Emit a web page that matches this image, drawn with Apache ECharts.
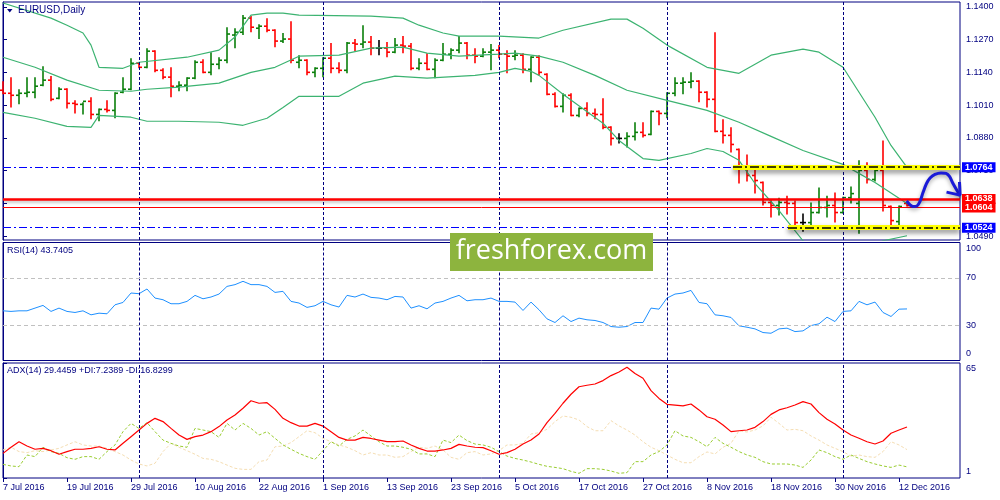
<!DOCTYPE html>
<html>
<head>
<meta charset="utf-8">
<title>EURUSD,Daily</title>
<script src="https://cdn.jsdelivr.net/npm/echarts@6.0.0/dist/echarts.min.js"></script>
<style>
  html, body { margin: 0; padding: 0; background: #fff; }
  #chart { width: 1000px; height: 500px; }
</style>
</head>
<body>
<div id="chart"></div>
<script>
// daily bars 7 Jul .. 13 Dec 2016 (index 0 = 7 Jul)
var opens = [
  1.1069,1.1057,1.1049,1.1057,1.1061,1.1089,1.1109,1.1037,1.1073,1.1017,
  1.1013,1.1025,1.0973,1.0993,1.0989,1.1061,1.1073,1.1176,1.1160,1.1224,
  1.1148,1.1121,1.1085,1.1089,1.1117,1.1180,1.1140,1.1172,1.1188,1.1288,
  1.1299,1.1355,1.1315,1.1323,1.1307,1.1264,1.1272,1.1180,1.1188,1.1140,
  1.1156,1.1196,1.1156,1.1148,1.1256,1.1252,1.1260,1.1236,1.1236,1.1220,
  1.1248,1.1244,1.1156,1.1176,1.1152,1.1188,1.1212,1.1228,1.1256,1.1208,
  1.1204,1.1220,1.1228,1.1212,1.1204,1.1208,1.1152,1.1200,1.1132,1.1053,
  1.1005,1.1049,1.0969,1.0997,1.0977,1.0973,1.0922,1.0878,1.0878,1.0886,
  1.0902,1.0894,1.0985,1.0977,1.1057,1.1097,1.1101,1.1105,1.1061,1.1033,
  1.0906,1.0890,1.0834,1.0763,1.0731,1.0703,1.0624,1.0612,1.0624,1.0620,
  1.0544,1.0544,1.0584,1.0604,1.0612,1.0584,1.0643,1.0620,1.0751,1.0715,
  1.0751,1.0608,1.0548,1.0620
];
var highs = [
  1.1105,1.1121,1.1073,1.1121,1.1121,1.1164,1.1125,1.1081,1.1077,1.1029,
  1.1021,1.1041,1.0997,1.1029,1.1061,1.1121,1.1196,1.1180,1.1236,1.1228,
  1.1156,1.1160,1.1105,1.1121,1.1188,1.1192,1.1220,1.1200,1.1319,1.1315,
  1.1367,1.1363,1.1331,1.1355,1.1311,1.1296,1.1343,1.1208,1.1192,1.1160,
  1.1200,1.1256,1.1180,1.1260,1.1272,1.1327,1.1284,1.1268,1.1260,1.1276,
  1.1284,1.1256,1.1196,1.1216,1.1196,1.1256,1.1236,1.1284,1.1260,1.1236,
  1.1236,1.1252,1.1248,1.1228,1.1228,1.1216,1.1204,1.1208,1.1136,1.1061,
  1.1057,1.1057,1.1001,1.1021,1.0997,1.1037,1.0926,1.0898,1.0902,1.0942,
  1.0942,1.0989,1.0989,1.1061,1.1121,1.1121,1.1140,1.1109,1.1065,1.1299,
  1.0954,1.0922,1.0838,1.0814,1.0755,1.0707,1.0636,1.0643,1.0651,1.0632,
  1.0580,1.0624,1.0683,1.0651,1.0663,1.0647,1.0687,1.0791,1.0783,1.0763,
  1.0870,1.0612,1.0612,1.0624
];
var lows = [
  1.1053,1.1001,1.1013,1.1041,1.1037,1.1085,1.1025,1.1033,1.0997,1.0977,
  1.0973,1.0954,1.0946,1.0981,1.0958,1.1057,1.1069,1.1156,1.1156,1.1140,
  1.1113,1.1041,1.1065,1.1065,1.1113,1.1136,1.1128,1.1152,1.1176,1.1236,
  1.1288,1.1299,1.1272,1.1299,1.1240,1.1256,1.1176,1.1156,1.1128,1.1121,
  1.1121,1.1136,1.1136,1.1136,1.1224,1.1236,1.1208,1.1208,1.1200,1.1216,
  1.1216,1.1148,1.1148,1.1148,1.1117,1.1184,1.1192,1.1216,1.1192,1.1176,
  1.1200,1.1148,1.1196,1.1136,1.1188,1.1136,1.1101,1.1128,1.1049,1.1001,
  1.0981,1.0966,1.0962,1.0966,1.0954,1.0914,1.0850,1.0858,1.0842,1.0870,
  1.0882,1.0890,1.0930,1.0958,1.1045,1.1053,1.1077,1.1021,1.1001,1.0902,
  1.0858,1.0822,1.0699,1.0707,1.0659,1.0612,1.0564,1.0572,1.0576,1.0524,
  1.0508,1.0532,1.0580,1.0564,1.0544,1.0580,1.0620,1.0500,1.0699,1.0707,
  1.0588,1.0520,1.0524,1.0608
];
var closes = [
  1.1057,1.1049,1.1057,1.1061,1.1085,1.1109,1.1033,1.1073,1.1017,1.1013,
  1.1025,1.0973,1.0993,1.0989,1.1057,1.1073,1.1176,1.1160,1.1224,1.1148,
  1.1121,1.1085,1.1089,1.1117,1.1180,1.1140,1.1172,1.1188,1.1292,1.1299,
  1.1355,1.1319,1.1323,1.1307,1.1264,1.1272,1.1188,1.1188,1.1140,1.1156,
  1.1196,1.1156,1.1148,1.1256,1.1252,1.1260,1.1236,1.1236,1.1220,1.1248,
  1.1244,1.1156,1.1176,1.1152,1.1188,1.1212,1.1228,1.1256,1.1208,1.1204,
  1.1220,1.1228,1.1212,1.1204,1.1208,1.1152,1.1200,1.1140,1.1053,1.1005,
  1.1049,1.0969,1.0997,1.0977,1.0973,1.0922,1.0878,1.0878,1.0886,1.0902,
  1.0890,1.0985,1.0977,1.1057,1.1097,1.1101,1.1105,1.1061,1.1033,1.0906,
  1.0890,1.0854,1.0763,1.0731,1.0711,1.0624,1.0612,1.0624,1.0620,1.0544,
  1.0544,1.0584,1.0604,1.0612,1.0584,1.0643,1.0659,1.0751,1.0715,1.0751,
  1.0612,1.0552,1.0608,1.0612
];

// Bollinger bands, read at [bar index, price]
var bbUpper = [[0,1.1415],[6,1.1355],[8,1.1327],[10,1.1296],[11,1.1248],[12,1.1160],[15,1.1156],[17,1.1180],
  [23,1.1200],[27,1.1228],[29,1.1280],[31,1.1367],[33,1.1375],[35,1.1375],[37,1.1367],[46,1.1363],[50,1.1355],
  [52,1.1327],[55,1.1296],[57,1.1284],[62,1.1284],[67,1.1276],[70,1.1307],[76,1.1351],[78,1.1351],[80,1.1315],
  [83,1.1248],[88,1.1160],[92,1.1136],[96,1.1208],[100,1.1232],[102,1.1220],[105,1.1160],[109,1.0962],
  [111,1.0850],[113,1.0763]];
var bbMiddle = [[0,1.1200],[4,1.1160],[8,1.1109],[12,1.1069],[16,1.1065],[18,1.1073],[22,1.1081],[27,1.1097],
  [31,1.1140],[34,1.1160],[37,1.1204],[42,1.1208],[46,1.1236],[50,1.1240],[53,1.1216],[57,1.1204],[62,1.1212],
  [64,1.1216],[67,1.1204],[70,1.1180],[74,1.1128],[78,1.1069],[83,1.1029],[88,1.0989],[92,1.0942],[96,1.0886],
  [100,1.0830],[105,1.0775],[109,1.0703],[113,1.0620]];
var bbLower = [[0,1.0981],[4,1.0958],[8,1.0926],[11,1.0922],[12,1.0969],[16,1.0962],[18,1.0946],[22,1.0946],
  [27,1.0942],[30,1.0930],[33,1.0958],[35,1.1001],[37,1.1045],[42,1.1045],[45,1.1097],[49,1.1125],[53,1.1117],
  [59,1.1128],[62,1.1140],[64,1.1156],[66,1.1144],[67,1.1128],[70,1.1053],[75,1.0938],[77,1.0870],[80,1.0798],
  [82,1.0791],[86,1.0818],[88,1.0838],[90,1.0826],[92,1.0791],[94,1.0699],[97,1.0592],[100,1.0472],
  [102,1.0425],[105,1.0409],[108,1.0433],[110,1.0472],[113,1.0492]];

var rsi = [
  42.1,41.6,42.1,42.1,44.4,46.7,41.6,44.4,41.6,40.7,
  42.1,38.7,40.1,39.6,47.2,49.2,57.2,56.6,60.6,52.9,
  51.5,48.1,48.1,50.1,55.2,52.3,53.8,56.3,62.8,64.3,
  67.1,64.3,64.3,62.8,57.7,58.6,50.1,48.7,45.0,46.4,
  50.1,47.2,45.3,55.2,53.8,56.3,53.5,52.9,51.5,54.3,
  53.8,44.4,46.4,43.8,48.7,50.1,52.9,55.2,50.6,51.5,
  51.5,52.9,50.1,50.1,49.5,42.4,49.5,43.0,35.3,32.2,
  37.9,33.0,35.9,34.5,33.9,32.2,28.8,28.2,28.8,32.2,
  32.2,44.4,43.5,52.9,56.3,57.2,59.4,49.2,48.1,38.7,
  37.9,36.5,29.4,28.2,26.8,23.7,23.1,26.8,27.4,24.5,
  25.1,29.6,31.1,36.7,33.0,41.6,42.1,50.1,47.2,49.5,
  40.7,37.3,43.5,43.7
];
var adx = [
  14.7,18.1,21.2,18.8,17.0,17.5,16.2,14.2,15.7,17.0,
  17.0,17.5,18.4,17.0,16.6,20.3,24.0,27.7,31.4,34.2,
  32.4,28.6,24.9,22.5,24.0,24.9,26.8,29.6,33.3,36.1,
  39.8,44.0,42.6,42.9,39.2,34.2,31.8,29.9,29.9,31.4,
  29.9,26.8,23.6,22.1,22.1,23.6,23.0,22.1,21.2,21.2,
  21.6,19.4,17.5,16.0,16.0,16.6,17.5,19.7,18.8,18.1,
  17.9,16.2,14.2,15.1,17.0,19.9,22.1,25.5,31.8,37.0,
  42.6,47.6,51.8,52.6,53.3,55.2,58.0,60.0,62.6,59.2,
  56.5,49.6,45.3,42.0,41.6,41.1,42.2,38.9,35.1,33.7,
  30.5,26.8,27.3,27.7,29.2,32.4,36.4,38.9,40.1,41.6,
  43.5,42.2,37.4,33.7,31.1,27.7,24.9,23.1,21.2,19.9,
  21.6,25.9,27.7,29.4
];
var plusDi = [
  8.6,7.7,7.3,13.8,12.9,18.1,15.7,14.7,12.3,11.4,
  12.9,12.9,11.4,15.7,19.4,26.8,31.4,28.6,31.8,26.8,
  22.1,20.3,18.8,18.1,28.6,27.7,26.8,23.6,31.4,27.7,
  31.4,28.6,24.9,26.8,23.1,19.4,17.0,14.7,12.9,11.4,
  16.2,21.2,18.8,22.5,24.4,27.7,24.4,21.2,18.8,18.8,
  18.1,17.0,14.4,14.4,12.9,22.1,20.7,24.9,21.8,19.9,
  19.4,18.1,15.7,13.2,11.9,11.0,9.9,8.6,7.5,6.9,
  6.2,4.7,3.6,6.2,6.2,5.8,4.9,3.6,4.0,10.1,
  10.1,13.8,15.7,19.4,27.3,24.4,23.6,21.2,18.4,23.6,
  20.3,18.1,15.7,13.8,12.5,10.1,8.8,8.8,8.8,8.2,
  6.9,11.0,16.6,15.1,12.9,11.4,13.8,11.9,10.1,8.8,
  7.7,6.9,8.2,7.2
];
var minusDi = [
  16.6,18.1,15.7,15.1,16.2,15.7,16.6,17.5,19.4,21.2,
  19.4,18.8,18.8,17.5,15.7,13.8,11.0,8.8,7.7,9.2,
  15.7,20.3,18.1,16.2,14.2,11.9,11.4,10.1,8.2,6.4,
  5.8,5.8,10.1,11.0,18.4,18.8,20.7,24.0,27.3,26.2,
  23.1,21.2,19.4,18.1,16.2,13.8,15.1,13.8,13.8,12.5,
  12.9,15.7,18.1,17.5,18.8,16.6,12.5,11.4,15.1,15.7,
  13.8,14.4,16.2,19.4,19.4,20.3,25.5,26.2,28.1,32.4,
  35.5,34.8,33.3,29.6,27.3,27.3,32.9,30.0,27.7,24.9,
  21.2,18.1,16.2,13.8,11.4,9.5,9.5,12.9,15.5,14.4,
  18.1,20.3,27.3,26.6,27.7,30.0,34.8,31.4,27.7,28.1,
  27.3,24.4,22.1,19.4,17.5,15.7,13.2,13.8,12.9,12.5,
  15.7,21.2,19.4,16.8
];

var tickIndex = [0, 8, 16, 24, 32, 40, 48, 56, 64, 72, 80, 88, 96, 104, 112];
var tickLabels = ['7 Jul 2016', '19 Jul 2016', '29 Jul 2016', '10 Aug 2016', '22 Aug 2016', '1 Sep 2016',
  '13 Sep 2016', '23 Sep 2016', '5 Oct 2016', '17 Oct 2016', '27 Oct 2016', '8 Nov 2016', '18 Nov 2016',
  '30 Nov 2016', '12 Dec 2016'];
var monthStarts = [17, 40, 62, 83, 105];  // 1 Aug, 1 Sep, 3 Oct, 1 Nov, 1 Dec
var priceTicks = [1.0490, 1.0620, 1.0750, 1.0880, 1.1010, 1.1140, 1.1270, 1.1400];

// drawn objects on the price panel
var resistance = 1.0764, support = 1.0524;
var redLevels = [1.0638, 1.0604];
var bandFrom = [91.25, 98.125];   // where the yellow highlight starts (bar index)
var arrowPath = [[112.96,1.0630],[113.38,1.0614],[113.75,1.0608],[114.25,1.0610],[114.63,1.0628],[115.0,1.0663],
  [115.44,1.0699],[115.88,1.0721],[116.5,1.0735],[117.25,1.0741],[117.88,1.0739],[118.31,1.0727],[118.75,1.0699],
  [119.25,1.0671],[119.63,1.0651]];
var arrowHead = [[117.94,1.0665],[119.63,1.0653],[119.56,1.0705]];

var navy = '#000080';
var font = 'Tahoma, "Liberation Sans", Arial, sans-serif';
var lastX = 119.625;  // right edge of the panels in bar units

var chart = echarts.init(document.getElementById('chart'));

function withIndex(arr) {
  return arr.map(function (v, i) { return [i, v]; });
}

function renderBar(params, api) {
  var o = api.value(1), c = api.value(4);
  var ph = api.coord([api.value(0), api.value(2)]);
  var pl = api.coord([api.value(0), api.value(3)]);
  var po = api.coord([api.value(0), o]);
  var pc = api.coord([api.value(0), c]);
  var col = c > o ? '#0a7f0a' : (c < o ? '#ff0000' : '#000000');
  var x = Math.round(ph[0]);
  var st = { stroke: col, lineWidth: 1.6 };
  return {
    type: 'group',
    children: [
      { type: 'line', shape: { x1: x, y1: ph[1], x2: x, y2: pl[1] }, style: st },
      { type: 'line', shape: { x1: x - 3, y1: po[1], x2: x, y2: po[1] }, style: st },
      { type: 'line', shape: { x1: x, y1: pc[1], x2: x + 3, y2: pc[1] }, style: st }
    ]
  };
}

function priceTag(bg, v) {
  return {
    show: true, position: 'end', distance: 2, formatter: v.toFixed(4),
    color: '#fff', backgroundColor: bg, padding: [1, 3, 0, 3], lineHeight: 9,
    fontSize: 9, fontWeight: 'bold', fontFamily: font
  };
}

var sepStyle = { color: navy, width: 1, type: [3, 2] };
function separators() {
  return monthStarts.map(function (i) { return { xAxis: i, lineStyle: sepStyle }; });
}

function xAxisFor(gi, labels) {
  return {
    type: 'value', gridIndex: gi, min: 0, max: lastX,
    axisLine: { show: false }, splitLine: { show: false },
    axisTick: { show: labels, customValues: tickIndex, length: 4, lineStyle: { color: navy } },
    axisLabel: {
      show: labels, customValues: tickIndex, align: 'left', margin: 5,
      color: navy, fontSize: 9, fontFamily: font,
      formatter: function (v) { return tickLabels[tickIndex.indexOf(v)]; }
    }
  };
}

function yAxisFor(gi, min, max, ticks, fmt) {
  return {
    type: 'value', gridIndex: gi, position: 'right', min: min, max: max,
    axisLine: { show: true, lineStyle: { color: navy } }, splitLine: { show: false },
    axisTick: { show: true, customValues: ticks, length: 4, lineStyle: { color: navy } },
    axisLabel: {
      customValues: ticks, formatter: fmt, margin: 6, color: navy, fontSize: 9, fontFamily: font,
      rich: {
        top: { padding: [12, 0, 0, 0], color: navy, fontSize: 9, fontFamily: font },
        bot: { padding: [0, 0, 13, 0], color: navy, fontSize: 9, fontFamily: font }
      }
    }
  };
}

var dashDot = [8, 3, 2, 3];

var option = {
  animation: false,
  backgroundColor: '#fff',
  textStyle: { fontFamily: font },
  title: [
    { text: 'EURUSD,Daily', left: 18, top: 5, padding: 0,
      textStyle: { fontSize: 10, fontWeight: 'normal', color: navy, fontFamily: font } },
    { text: 'RSI(14) 43.7405', left: 7, top: 246, padding: 0,
      textStyle: { fontSize: 9, fontWeight: 'normal', color: navy, fontFamily: font } },
    { text: 'ADX(14) 29.4459 +DI:7.2389 -DI:16.8299', left: 7, top: 366, padding: 0,
      textStyle: { fontSize: 9, fontWeight: 'normal', color: navy, fontFamily: font } }
  ],
  grid: [
    { left: 3, top: 2, width: 957, height: 238, show: true, borderColor: navy, borderWidth: 1 },
    { left: 3, top: 242.5, width: 957, height: 118, show: true, borderColor: navy, borderWidth: 1 },
    { left: 3, top: 363, width: 957, height: 115, show: true, borderColor: navy, borderWidth: 1 }
  ],
  xAxis: [xAxisFor(0, false), xAxisFor(1, false), xAxisFor(2, true)],
  yAxis: [
    yAxisFor(0, 1.0475, 1.1419, priceTicks, function (v) { return v.toFixed(4); }),
    yAxisFor(1, 0, 100, [0, 30, 70, 100], function (v) {
      return v === 100 ? '{top|100}' : (v === 0 ? '{bot|0}' : String(v));
    }),
    yAxisFor(2, 1, 65, [1, 65], function (v) {
      return v === 65 ? '{top|65}' : '{bot|1}';
    })
  ],
  graphic: [
    { type: 'polygon', z: 10, shape: { points: [[7, 9], [12.5, 9], [9.75, 12.5]] }, style: { fill: navy } },
    { type: 'rect', z: 100, shape: { x: 450, y: 233, width: 203, height: 38 }, style: { fill: '#8db43e' } },
    { type: 'text', z: 101, x: 551.5, y: 251, style: {
        text: 'freshforex.com', fill: '#ffffff', fontSize: 27, fontFamily: '"Open Sans", sans-serif',
        align: 'center', verticalAlign: 'middle' } }
  ],
  series: [
    {
      name: 'levels', type: 'line', xAxisIndex: 0, yAxisIndex: 0, data: [], z: 1, silent: true,
      markLine: {
        symbol: ['none', 'none'], silent: true, animation: false, precision: 4, label: { show: false },
        data: separators().concat([
          [{ coord: [0, resistance], lineStyle: { color: '#0000ff', width: 1, type: dashDot } }, { coord: [bandFrom[0], resistance] }],
          [{ coord: [0, support], lineStyle: { color: '#0000ff', width: 1, type: dashDot } }, { coord: [bandFrom[1], support] }],
          { yAxis: redLevels[0], lineStyle: { color: '#ff0000', width: 2.5, type: 'solid',
              shadowColor: 'rgba(0,0,0,0.25)', shadowBlur: 3, shadowOffsetY: 2 }, label: priceTag('#ff0000', redLevels[0]) },
          { yAxis: redLevels[1], lineStyle: { color: '#ff0000', width: 1, type: 'solid' }, label: priceTag('#ff0000', redLevels[1]) },
          [{ coord: [bandFrom[0], resistance], lineStyle: { color: '#ffff00', width: 5, type: 'solid',
              shadowColor: 'rgba(0,0,0,0.45)', shadowBlur: 5, shadowOffsetY: 3 } }, { coord: [lastX, resistance] }],
          [{ coord: [bandFrom[0], resistance], lineStyle: { color: '#000000', width: 1.5, type: [9, 3, 2, 3] },
              label: priceTag('#0000ff', resistance) }, { coord: [lastX, resistance] }],
          [{ coord: [bandFrom[1], support], lineStyle: { color: '#ffff00', width: 5, type: 'solid',
              shadowColor: 'rgba(0,0,0,0.45)', shadowBlur: 5, shadowOffsetY: 3 } }, { coord: [lastX, support] }],
          [{ coord: [bandFrom[1], support], lineStyle: { color: '#000000', width: 1.5, type: [9, 3, 2, 3] },
              label: priceTag('#0000ff', support) }, { coord: [lastX, support] }]
        ])
      }
    },
    {
      name: 'EURUSD', type: 'custom', xAxisIndex: 0, yAxisIndex: 0, z: 3, silent: true,
      renderItem: renderBar,
      encode: { x: 0, y: [1, 2, 3, 4] },
      data: opens.map(function (o, i) { return [i, o, highs[i], lows[i], closes[i]]; })
    },
    { name: 'BB upper', type: 'line', xAxisIndex: 0, yAxisIndex: 0, data: bbUpper, showSymbol: false, z: 4,
      silent: true, lineStyle: { color: '#3cb371', width: 1.2 } },
    { name: 'BB middle', type: 'line', xAxisIndex: 0, yAxisIndex: 0, data: bbMiddle, showSymbol: false, z: 4,
      silent: true, lineStyle: { color: '#3cb371', width: 1.2 } },
    { name: 'BB lower', type: 'line', xAxisIndex: 0, yAxisIndex: 0, data: bbLower, showSymbol: false, z: 4,
      silent: true, lineStyle: { color: '#3cb371', width: 1.2 } },
    { name: 'arrow', type: 'line', xAxisIndex: 0, yAxisIndex: 0, data: arrowPath, smooth: 0.3, showSymbol: false,
      clip: false, z: 6, silent: true,
      lineStyle: { color: '#1a1ad8', width: 3, shadowColor: 'rgba(0,0,0,0.35)', shadowBlur: 4, shadowOffsetY: 2 } },
    { name: 'arrow head', type: 'line', xAxisIndex: 0, yAxisIndex: 0, data: arrowHead, showSymbol: false,
      clip: false, z: 6, silent: true,
      lineStyle: { color: '#1a1ad8', width: 3, shadowColor: 'rgba(0,0,0,0.35)', shadowBlur: 4, shadowOffsetY: 2 } },
    {
      name: 'RSI', type: 'line', xAxisIndex: 1, yAxisIndex: 1, data: withIndex(rsi), showSymbol: false, z: 3,
      silent: true, lineStyle: { color: '#1e90ff', width: 1 },
      markLine: {
        symbol: ['none', 'none'], silent: true, animation: false, label: { show: false },
        data: separators().concat([
          { yAxis: 70, lineStyle: { color: '#c0c0c0', width: 1, type: [4, 3] } },
          { yAxis: 30, lineStyle: { color: '#c0c0c0', width: 1, type: [4, 3] } }
        ])
      }
    },
    {
      name: '-DI', type: 'line', xAxisIndex: 2, yAxisIndex: 2, data: withIndex(minusDi), showSymbol: false, z: 2,
      silent: true, lineStyle: { color: '#f5deb3', width: 1, type: [3, 2] },
      markLine: {
        symbol: ['none', 'none'], silent: true, animation: false, label: { show: false },
        data: separators()
      }
    },
    { name: '+DI', type: 'line', xAxisIndex: 2, yAxisIndex: 2, data: withIndex(plusDi), showSymbol: false, z: 3,
      silent: true, lineStyle: { color: '#9acd32', width: 1, type: [3, 2] } },
    { name: 'ADX', type: 'line', xAxisIndex: 2, yAxisIndex: 2, data: withIndex(adx), showSymbol: false, z: 4,
      silent: true, lineStyle: { color: '#ff0000', width: 1.2 } }
  ]
};

chart.setOption(option);
</script>
</body>
</html>
